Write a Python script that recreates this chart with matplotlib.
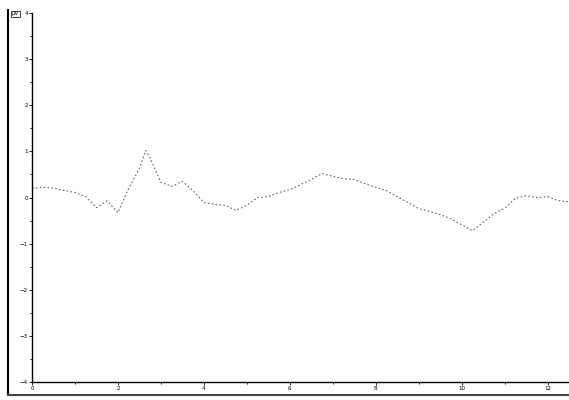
import matplotlib
matplotlib.use("Agg")
import matplotlib.pyplot as plt
from matplotlib.lines import Line2D

# trace
t = [0.0, 0.25, 0.5, 0.75, 1.0, 1.25, 1.5, 1.75, 2.0, 2.25, 2.5, 2.65, 2.75,
     3.0, 3.25, 3.5, 3.75, 4.0, 4.25, 4.5, 4.75, 5.0, 5.25, 5.5, 5.75, 6.0,
     6.25, 6.5, 6.75, 7.0, 7.25, 7.5, 7.75, 8.0, 8.25, 8.5, 8.75, 9.0, 9.25,
     9.5, 9.75, 10.0, 10.25, 10.5, 10.75, 11.0, 11.25, 11.5, 11.75, 12.0,
     12.25, 12.5]
amp = [0.20, 0.22, 0.20, 0.15, 0.11, 0.02, -0.22, -0.07, -0.33, 0.20, 0.63,
       1.02, 0.85, 0.33, 0.24, 0.35, 0.15, -0.11, -0.15, -0.17, -0.28, -0.17,
       0.00, 0.02, 0.11, 0.17, 0.28, 0.39, 0.52, 0.46, 0.41, 0.39, 0.30, 0.22,
       0.15, 0.02, -0.11, -0.24, -0.30, -0.37, -0.46, -0.59, -0.72, -0.54,
       -0.35, -0.24, -0.02, 0.04, 0.00, 0.02, -0.07, -0.09]

xticks = [0, 2, 4, 6, 8, 10, 12]
yticks = [4, 3, 2, 1, 0, -1, -2, -3, -4]

fig = plt.figure(figsize=(5.69, 4.0), dpi=100)
ax = fig.add_axes([32 / 569, 18 / 400, 537 / 569, 369 / 400])

ax.plot(t, amp, color="#666666", lw=0.8, ls=(0, (1.5, 2.0)))

ax.set_xlim(0, 12.5)
ax.set_ylim(-4, 4)
ax.set_xticks(xticks)
ax.set_xticks([v + 1 for v in xticks[:-1]], minor=True)
ax.set_yticks(yticks)
ax.set_yticks([v + 0.5 for v in yticks[1:]], minor=True)
ax.tick_params(labelsize=4, length=2, width=0.6, pad=1)
ax.tick_params(which="minor", length=1.5, width=0.6)
for s in ["top", "right"]:
    ax.spines[s].set_visible(False)
for s in ["left", "bottom"]:
    ax.spines[s].set_linewidth(1.0)

# outer frame of the original panel
fig.add_artist(Line2D([8 / 569, 8 / 569], [5 / 400, 390 / 400],
                      color="black", lw=1.5, transform=fig.transFigure))
fig.add_artist(Line2D([8 / 569, 1.0], [5 / 400, 5 / 400],
                      color="#444444", lw=1.5, transform=fig.transFigure))
fig.text(12 / 569, 386 / 400, "μV", fontsize=4, va="center",
         bbox=dict(boxstyle="square,pad=0.1", fc="white", ec="black", lw=0.5))

fig.savefig("out.png", dpi=100)
